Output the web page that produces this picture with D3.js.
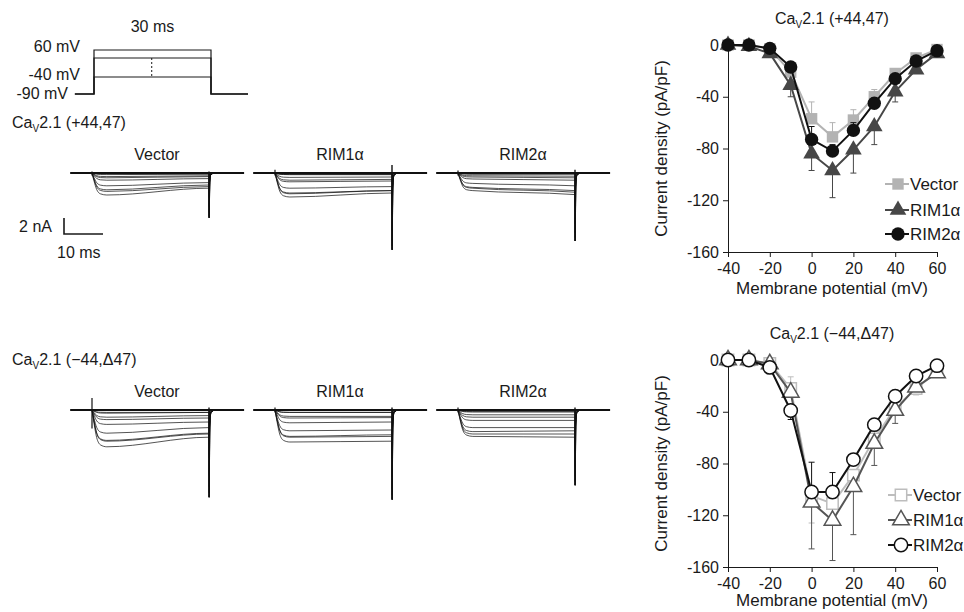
<!DOCTYPE html>
<html>
<head>
<meta charset="utf-8">
<script src="https://cdn.jsdelivr.net/npm/d3@7"></script>
<style>
  body { margin: 0; background: #fff; }
  svg { display: block; font-family: "Liberation Sans", Arial, sans-serif; }
</style>
</head>
<body>
<div id="container"></div>
<script>
// ---- data ----
const potentials = [-40, -30, -20, -10, 0, 10, 20, 30, 40, 50, 60];
const groups = ["Vector", "RIM1α", "RIM2α"];

// IV curves, pA/pF (signed error: positive = bar drawn upward)
const ivTopVector = [0, 0, -3, -21, -57, -71, -58, -40, -22, -10, -3.5];
const ivTopVectorErr = [0, 0, 0, 3, 13, 11, 8, 5.6, 3, 2, 1];
const ivTopRim1 = [0, -1, -6.5, -31, -84, -97, -81, -63, -36, -19, -6.5];
const ivTopRim1Err = [0, 0, -2, -9, -13, -21, -18, -14, -8, -3, -2];
const ivTopRim2 = [0, 0, -2.6, -17, -73, -82, -66, -45, -26, -12.4, -4.4];
const ivTopRim2Err = [0, 0, 0, 2, 10, 5, 6, 4, 3, 2, 1];

const ivBotVector = [0, 0, -2.6, -22, -105, -111, -89, -61, -37, -22, -9];
const ivBotVectorErr = [0, 0, 0, 9, -21, -4, -4, -4, -4, -5, -2];
const ivBotRim1 = [0, 0, -3, -25, -110, -124, -98, -64.5, -39, -21, -10];
const ivBotRim1Err = [0, 0, 0, -3, -36, -31, -37, -17, -10, -3, -1];
const ivBotRim2 = [0, 0, -5.7, -39, -102, -102, -77, -50, -28, -12.4, -4.4];
const ivBotRim2Err = [0, 0, 0, -7, 23, 15, 4, 2, 2, 1, 1];

// current traces, inward amplitude in nA at peak and at end of the 30 ms step
const topVectorPeak = [0, 0, 0.1, 0.6, 2.1, 2.75, 2.3, 1.6, 0.9, 0.45, 0.2];
const topVectorEnd = [0, 0, 0.1, 0.45, 1.5, 1.9, 1.7, 1.2, 0.7, 0.35, 0.15];
const topRim1Peak = [0, 0, 0.2, 0.9, 2.6, 3.0, 2.5, 1.9, 1.1, 0.55, 0.2];
const topRim1End = [0, 0, 0.2, 0.8, 2.2, 2.5, 2.2, 1.7, 1.0, 0.5, 0.2];
const topRim2Peak = [0, 0, 0.1, 0.5, 1.8, 2.2, 1.9, 1.3, 0.75, 0.35, 0.15];
const topRim2End = [0, 0, 0.1, 0.6, 2.2, 2.7, 2.4, 1.6, 0.9, 0.4, 0.15];
const botVectorPeak = [0, 0, 0.3, 1.2, 3.8, 4.6, 3.9, 2.9, 1.8, 0.9, 0.4];
const botVectorEnd = [0, 0, 0.3, 1.0, 2.9, 3.4, 3.0, 2.2, 1.5, 0.7, 0.3];
const botRim1Peak = [0, 0, 0.3, 1.0, 3.3, 4.0, 3.4, 2.6, 1.6, 0.8, 0.3];
const botRim1End = [0, 0, 0.3, 0.95, 3.1, 3.9, 3.3, 2.5, 1.5, 0.8, 0.3];
const botRim2Peak = [0, 0, 0.2, 0.9, 2.7, 3.3, 3.0, 2.2, 1.3, 0.6, 0.25];
const botRim2End = [0, 0, 0.2, 0.9, 2.6, 3.4, 3.0, 2.2, 1.3, 0.6, 0.25];
// tail current peak (nA) per panel and relative size per step
const topTails = [5.6, 9.6, 8.5];
const botTails = [10.9, 11.2, 9.4];
const tailFraction = [0.02, 0.05, 0.12, 0.3, 0.55, 0.75, 0.88, 0.95, 1, 1, 1];
// onset artifact [up, down] nA and offset upward blip, per panel
const topOnset = [[0.2, 0.3], [0.4, 0.3], [0.3, 0.3]];
const botOnset = [[1.5, 2.3], [0.3, 0.3], [0.3, 0.3]];
const topOffsetUp = [0.2, 1.0, 0.4];
const botOffsetUp = [0.3, 0.3, 0.3];

// protocol levels, mV
const protocolLevels = [-40, 50, 60];
const protocolLabels = ["60 mV", "-40 mV", "-90 mV"];

// ---- drawing ----
const width = 964, height = 612;
const svg = d3.select("#container").append("svg")
  .attr("width", width).attr("height", height)
  .attr("viewBox", [0, 0, width, height]);
svg.append("rect").attr("width", width).attr("height", height).attr("fill", "#fff");

const ink = "#1a1a1a";
const fs = 16;

function caText(g, x, y, rest, anchor) {
  const t = g.append("text").attr("x", x).attr("y", y)
    .attr("text-anchor", anchor || "start").attr("font-size", fs).attr("fill", ink);
  t.append("tspan").text("Ca");
  t.append("tspan").attr("dy", 4).attr("font-size", 10).text("V");
  t.append("tspan").attr("dy", -4).text("2.1 " + rest);
  return t;
}

// voltage protocol
const pt = d3.scaleLinear().domain([0, 30]).range([94, 211]);
const pv = d3.scaleLinear().domain([-90, -40, 50, 60]).range([94, 77, 58, 50]);
const pline = d3.line().x(d => pt(d[0])).y(d => pv(d[1]));
protocolLevels.forEach(lv => {
  svg.append("path")
    .attr("d", pline([[-4.9, -90], [0, -90], [0, lv], [30, lv], [30, -90], [9.5 + 30, -90]]))
    .attr("fill", "none").attr("stroke", ink).attr("stroke-width", 1.2);
});
svg.append("line")
  .attr("x1", pt(14.8)).attr("x2", pt(14.8)).attr("y1", pv(50)).attr("y2", pv(-40))
  .attr("stroke", ink).attr("stroke-dasharray", "2,2");
svg.append("text").attr("x", pt(15)).attr("y", 32).attr("text-anchor", "middle")
  .attr("font-size", fs).attr("fill", ink).text("30 ms");
[[protocolLabels[0], 80, 52], [protocolLabels[1], 80, 80], [protocolLabels[2], 68, 99]].forEach(([s, x, y]) => {
  svg.append("text").attr("x", x).attr("y", y).attr("text-anchor", "end")
    .attr("font-size", fs).attr("fill", ink).text(s);
});

caText(svg, 12, 128, "(+44,47)");
caText(svg, 12, 365, "(\u221244,\u039447)");

// current traces
const panelX = [70, 253, 436];
const pxPerMs = 3.9, pxPerNa = 8;

function drawTraces(baseY, labelY, peaks, ends, tails, onset, offsetUp) {
  panelX.forEach((px, p) => {
    const t0 = px + 22;
    const x = d3.scaleLinear().domain([0, 30]).range([t0, t0 + 30 * pxPerMs]);
    const y = d3.scaleLinear().domain([0, 1]).range([baseY, baseY + pxPerNa]);
    const g = svg.append("g");
    g.append("text").attr("x", px + 87).attr("y", labelY).attr("text-anchor", "middle")
      .attr("font-size", fs).attr("fill", ink).text(groups[p]);
    const line = d3.line().x(d => x(d[0])).y(d => y(d[1])).curve(d3.curveMonotoneX);
    potentials.forEach((v, i) => {
      const pk = peaks[p][i], en = ends[p][i], tl = tails[p] * tailFraction[i];
      const pts = [[0, 0], [0.5, 0.35 * pk], [1.2, 0.75 * pk], [2.2, 0.95 * pk], [3.8, pk],
        [30, en], [30.05, tl], [30.2, 0.2 * tl], [30.5, 0.03 * tl], [31.5, 0]];
      g.append("path").attr("d", line(pts)).attr("fill", "none")
        .attr("stroke", "#111").attr("stroke-width", 0.8).attr("stroke-opacity", 0.9);
    });
    // onset and offset artifacts
    g.append("line").attr("x1", x(0)).attr("x2", x(0))
      .attr("y1", y(-onset[p][0])).attr("y2", y(onset[p][1]))
      .attr("stroke", "#111").attr("stroke-width", 1.2);
    g.append("line").attr("x1", x(30)).attr("x2", x(30))
      .attr("y1", y(-offsetUp[p])).attr("y2", y(tails[p]))
      .attr("stroke", "#111").attr("stroke-width", 1.4);
    // baseline
    g.append("line").attr("x1", x(-5.6)).attr("x2", x(39))
      .attr("y1", baseY).attr("y2", baseY).attr("stroke", "#111").attr("stroke-width", 2);
  });
}

drawTraces(173, 160, [topVectorPeak, topRim1Peak, topRim2Peak], [topVectorEnd, topRim1End, topRim2End],
  topTails, topOnset, topOffsetUp);
drawTraces(410, 397, [botVectorPeak, botRim1Peak, botRim2Peak], [botVectorEnd, botRim1End, botRim2End],
  botTails, botOnset, botOffsetUp);

// scale bar
const sbT = d3.scaleLinear().domain([0, 10]).range([64, 64 + 10 * pxPerMs]);
const sbI = d3.scaleLinear().domain([0, 2]).range([234, 234 - 2 * pxPerNa]);
svg.append("path")
  .attr("d", d3.line()([[sbT(0), sbI(2)], [sbT(0), sbI(0)], [sbT(10), sbI(0)]]))
  .attr("fill", "none").attr("stroke", ink).attr("stroke-width", 1.6);
svg.append("text").attr("x", 52).attr("y", 232).attr("text-anchor", "end")
  .attr("font-size", fs).attr("fill", ink).text("2 nA");
svg.append("text").attr("x", 57).attr("y", 258)
  .attr("font-size", fs).attr("fill", ink).text("10 ms");

// IV plots
const shapes = { Vector: d3.symbolSquare, "RIM1α": d3.symbolTriangle, "RIM2α": d3.symbolCircle };
const shapeSize = { Vector: 130, "RIM1α": 120, "RIM2α": 140 };

function drawIV(top, title, series, open, legendX, legendY, xTitleY) {
  const x = d3.scaleLinear().domain([-40, 60]).range([728, 937]);
  const y = d3.scaleLinear().domain([-160, 0]).range([top + 207, top]);
  const g = svg.append("g");

  g.append("g").attr("transform", `translate(0,${top + 207})`)
    .call(d3.axisBottom(x).tickValues([-40, -20, 0, 20, 40, 60]).tickSizeOuter(0).tickSize(5).tickPadding(6)
      .tickFormat(d => d))
    .call(a => a.selectAll("text").attr("font-size", fs).attr("fill", ink).attr("font-family", null))
    .call(a => a.selectAll("line,path").attr("stroke", ink));
  g.append("g").attr("transform", "translate(728,0)")
    .call(d3.axisLeft(y).tickValues([0, -40, -80, -120, -160]).tickSizeOuter(0).tickSize(5).tickPadding(4)
      .tickFormat(d => d))
    .call(a => a.selectAll("text").attr("font-size", fs).attr("fill", ink).attr("font-family", null))
    .call(a => a.selectAll("line,path").attr("stroke", ink));

  caText(g, 832, top - 21, title, "middle");
  g.append("text").attr("x", 832).attr("y", xTitleY).attr("text-anchor", "middle")
    .attr("font-size", 17).attr("fill", ink).text("Membrane potential (mV)");
  g.append("text").attr("transform", `translate(667,${top + 103.5}) rotate(-90)`)
    .attr("text-anchor", "middle").attr("font-size", 17).attr("fill", ink)
    .text("Current density (pA/pF)");

  const line = d3.line().x((d, i) => x(potentials[i])).y(d => y(d));
  series.forEach(s => {
    const sg = g.append("g");
    // error bars
    s.values.forEach((v, i) => {
      if (!s.err[i]) return;
      const e = v + s.err[i];
      sg.append("line").attr("x1", x(potentials[i])).attr("x2", x(potentials[i]))
        .attr("y1", y(v)).attr("y2", y(e)).attr("stroke", s.color).attr("stroke-width", 1);
      sg.append("line").attr("x1", x(potentials[i]) - 3).attr("x2", x(potentials[i]) + 3)
        .attr("y1", y(e)).attr("y2", y(e)).attr("stroke", s.color).attr("stroke-width", 1);
    });
    sg.append("path").attr("d", line(s.values)).attr("fill", "none")
      .attr("stroke", s.color).attr("stroke-width", 2);
    sg.selectAll(".m").data(s.values).join("path")
      .attr("transform", (d, i) => `translate(${x(potentials[i])},${y(d)})`)
      .attr("d", d3.symbol(shapes[s.name], shapeSize[s.name]))
      .attr("fill", open ? "#fff" : s.color)
      .attr("stroke", s.color).attr("stroke-width", open ? 1.5 : 0);
  });

  // legend
  series.forEach((s, i) => {
    const ly = legendY[i];
    const lg = g.append("g");
    lg.append("line").attr("x1", legendX - 25).attr("x2", legendX - 1).attr("y1", ly).attr("y2", ly)
      .attr("stroke", s.color).attr("stroke-width", 2);
    lg.append("path").attr("transform", `translate(${legendX - 12},${ly})`)
      .attr("d", d3.symbol(shapes[s.name], shapeSize[s.name]))
      .attr("fill", open ? "#fff" : s.color)
      .attr("stroke", s.color).attr("stroke-width", open ? 1.5 : 0);
    lg.append("text").attr("x", legendX).attr("y", ly).attr("dy", "0.36em")
      .attr("font-size", 17).attr("fill", ink).text(s.name);
  });
}

drawIV(45, "(+44,47)", [
  { name: "Vector", values: ivTopVector, err: ivTopVectorErr, color: "#b3b3b3" },
  { name: "RIM1α", values: ivTopRim1, err: ivTopRim1Err, color: "#474747" },
  { name: "RIM2α", values: ivTopRim2, err: ivTopRim2Err, color: "#111" }
], false, 910, [184, 210, 234], 294);

drawIV(360, "(\u221244,\u039447)", [
  { name: "Vector", values: ivBotVector, err: ivBotVectorErr, color: "#bdbdbd" },
  { name: "RIM1α", values: ivBotRim1, err: ivBotRim1Err, color: "#555" },
  { name: "RIM2α", values: ivBotRim2, err: ivBotRim2Err, color: "#111" }
], true, 913, [495, 520, 545], 606);
</script>
</body>
</html>
